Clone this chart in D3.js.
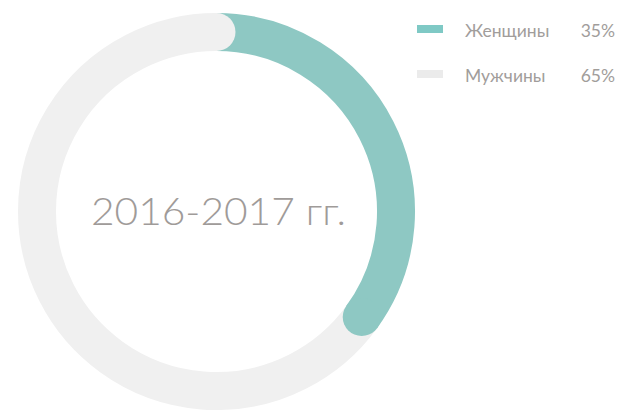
<!DOCTYPE html>
<html>
<head>
<meta charset="utf-8">
<script src="https://cdn.jsdelivr.net/npm/d3@7"></script>
<style>
  html, body { margin: 0; padding: 0; background: #fff; }
  svg { display: block; }
  text { font-family: "Lato", "Noto Sans", sans-serif; }
</style>
</head>
<body>
<svg id="chart" width="617" height="410"></svg>
<script>
// Gender split for the period
const categories = ["Женщины", "Мужчины"];
const values = [35, 65];
const percentLabels = ["35%", "65%"];
const colors = ["#8ec8c3", "#f0f0f0"];
const legendColors = ["#7fc9c5", "#ebebeb"];
const centerLabel = "2016-2017 гг.";

const svg = d3.select("#chart");
const cx = 216.5, cy = 211.5;
const outerR = 198.5, innerR = 160.5;
const midR = (outerR + innerR) / 2;
const thickness = outerR - innerR;

const pie = d3.pie().sort(null).value(d => d);
const slices = pie(values);

const g = svg.append("g").attr("transform", `translate(${cx},${cy})`);

// Open centerline arc (pie angles are clockwise from 12 o'clock)
function arcPath(s) {
  const p = d3.path();
  const a0 = s.startAngle - Math.PI / 2, a1 = s.endAngle - Math.PI / 2;
  p.moveTo(midR * Math.cos(a0), midR * Math.sin(a0));
  p.arc(0, 0, midR, a0, a1, false);
  return p.toString();
}

function strokeArc(s, color) {
  g.append("path")
    .attr("d", arcPath(s))
    .attr("fill", "none")
    .attr("stroke", color)
    .attr("stroke-width", thickness)
    .attr("stroke-linecap", "butt");
}

// Rounded end of a segment
function capDot(angle, color) {
  g.append("circle")
    .attr("cx", midR * Math.sin(angle))
    .attr("cy", -midR * Math.cos(angle))
    .attr("r", thickness / 2)
    .attr("fill", color);
}

// Segment bodies, then each segment's rounded end over the next one
strokeArc(slices[1], colors[1]);
strokeArc(slices[0], colors[0]);
capDot(slices[0].endAngle, colors[0]);
capDot(slices[1].endAngle, colors[1]);

// Center label
g.append("text")
  .attr("x", 2)
  .attr("y", 13)
  .attr("text-anchor", "middle")
  .attr("font-size", 37)
  .attr("font-weight", 300)
  .attr("fill", "#9f9b99")
  .attr("textLength", 255)
  .attr("lengthAdjust", "spacingAndGlyphs")
  .text(centerLabel);

// Legend
const legend = svg.append("g");
const rows = legend.selectAll("g.row")
  .data(categories)
  .join("g")
  .attr("class", "row")
  .attr("transform", (d, i) => `translate(0, ${i * 45})`);

rows.append("rect")
  .attr("x", 417).attr("y", 25)
  .attr("width", 26).attr("height", 8)
  .attr("fill", (d, i) => legendColors[i]);

rows.append("text")
  .attr("x", 465).attr("y", 37)
  .attr("font-size", 17.5)
  .attr("font-weight", 400)
  .attr("fill", "#a19d9b")
  .text(d => d);

rows.append("text")
  .attr("x", 615).attr("y", 37)
  .attr("text-anchor", "end")
  .attr("font-size", 17.5)
  .attr("font-weight", 400)
  .attr("fill", "#a19d9b")
  .text((d, i) => percentLabels[i]);
</script>
</body>
</html>
